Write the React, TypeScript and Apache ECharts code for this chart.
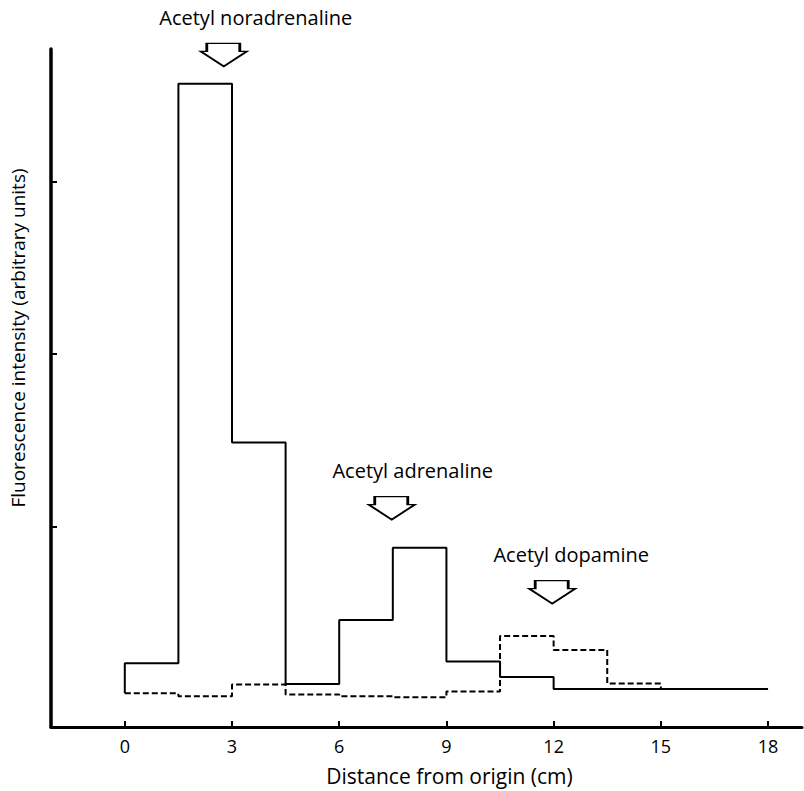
import React, { useEffect, useRef } from "react";
import * as echarts from "echarts";

// Bin edges (cm) and fluorescence intensities (arbitrary units)
const SOLID_EDGES = [0, 1.5, 3, 4.5, 6, 7.5, 9, 10.5, 12, 18];
const SOLID_VALUES = [0.37, 3.73, 1.65, 0.25, 0.62, 1.04, 0.38, 0.29, 0.22];
const DASHED_EDGES = [0, 1.5, 3, 4.5, 6, 7.5, 9, 10.5, 12, 13.5, 15];
const DASHED_VALUES = [0.195, 0.178, 0.246, 0.189, 0.178, 0.172, 0.206, 0.527, 0.447, 0.252];
const X_TICKS = [0, 3, 6, 9, 12, 15, 18];
const Y_TICKS = [1.163, 2.166, 3.163];
const ANNOTATIONS = [
  { name: "Acetyl noradrenaline", x: 2.77, y: 3.897, dx: 32 },
  { name: "Acetyl adrenaline", x: 7.47, y: 1.269, dx: 21 },
  { name: "Acetyl dopamine", x: 11.96, y: 0.782, dx: 19 },
];

const FONT = "'Open Sans', 'DejaVu Sans', sans-serif";

function stepPoints(edges: number[], values: number[]) {
  const pts: number[][] = [];
  values.forEach((v, i) => {
    pts.push([edges[i], v]);
    pts.push([edges[i + 1], v]);
  });
  return pts;
}

export default function App() {
  const ref = useRef<HTMLDivElement>(null);
  useEffect(() => {
    if (!ref.current) return;
    const chart = echarts.init(ref.current, null, { renderer: "svg" });
    const solid = [[SOLID_EDGES[0], DASHED_VALUES[0]], ...stepPoints(SOLID_EDGES, SOLID_VALUES)];
    const dashed = [
      ...stepPoints(DASHED_EDGES, DASHED_VALUES),
      [DASHED_EDGES[DASHED_EDGES.length - 1], SOLID_VALUES[SOLID_VALUES.length - 1]],
    ];
    chart.setOption({
      animation: false,
      backgroundColor: "#fff",
      grid: { left: 49, right: 2, top: 49, bottom: 56, containLabel: false },
      xAxis: {
        type: "value",
        min: -2.065,
        max: 18.95,
        name: "Distance from origin (cm)",
        nameLocation: "middle",
        nameGap: 38,
        nameTextStyle: { fontFamily: FONT, fontSize: 21, color: "#000", padding: [0, 0, 0, 46] },
        axisLine: { onZero: false, lineStyle: { color: "#000", width: 3 } },
        axisTick: { show: true, inside: true, length: 6, lineStyle: { color: "#000", width: 2 }, customValues: X_TICKS },
        axisLabel: { fontFamily: FONT, fontSize: 18, color: "#000", margin: 10, customValues: X_TICKS },
        splitLine: { show: false },
      },
      yAxis: {
        type: "value",
        min: 0,
        max: 3.931,
        name: "Fluorescence intensity (arbitrary units)",
        nameLocation: "middle",
        nameGap: 24,
        nameRotate: 90,
        nameTextStyle: { fontFamily: FONT, fontSize: 19, color: "#000", padding: [0, 0, 0, 100] },
        axisLine: { show: true, onZero: false, lineStyle: { color: "#000", width: 3.5 } },
        axisTick: { show: true, inside: true, length: 6, lineStyle: { color: "#000", width: 2 }, customValues: Y_TICKS },
        axisLabel: { show: false },
        splitLine: { show: false },
      },
      series: [
        {
          type: "line",
          data: solid,
          showSymbol: false,
          lineStyle: { color: "#000", width: 2 },
          markPoint: {
            symbol: "path://M6,0 L39,0 L39,8 L46,8 L23,23 L0,8 L6,8 Z",
            symbolSize: [46, 23],
            itemStyle: { color: "#fff", borderColor: "#000", borderWidth: 2 },
            label: {
              show: true,
              position: "top",
              distance: 15,
              formatter: "{b}",
              fontFamily: FONT,
              fontSize: 20,
              color: "#000",
            },
            data: ANNOTATIONS.map((a) => ({
              name: a.name,
              coord: [a.x, a.y],
              label: { offset: [a.dx, 0] },
            })),
          },
        },
        {
          type: "line",
          data: dashed,
          showSymbol: false,
          lineStyle: { color: "#000", width: 2, type: [6, 3] },
        },
      ],
    });
    return () => chart.dispose();
  }, []);
  return (
    <div
      ref={ref}
      style={{ position: "fixed", left: 0, top: 0, width: 804, height: 791 }}
    />
  );
}
